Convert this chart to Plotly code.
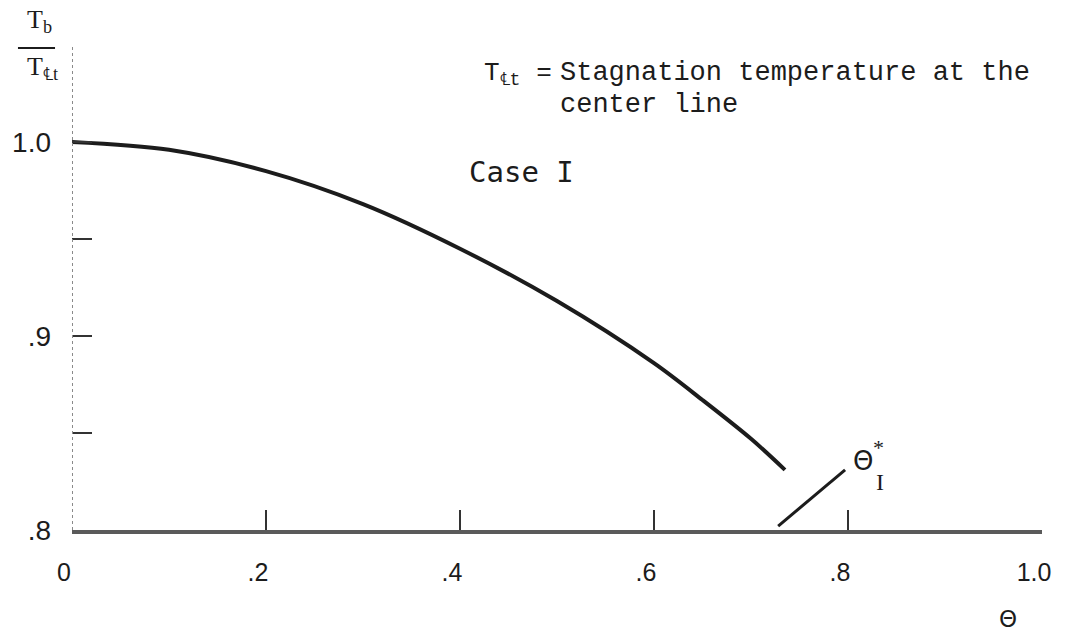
import plotly.graph_objects as go

# Data
theta = [0.0, 0.10, 0.20, 0.30, 0.40, 0.50, 0.60, 0.65, 0.70, 0.735]
tb_ratio = [1.000, 0.996, 0.985, 0.968, 0.945, 0.918, 0.886, 0.867, 0.847, 0.831]

x_tickvals = [0, 0.2, 0.4, 0.6, 0.8, 1.0]
x_ticktext = ["0", ".2", ".4", ".6", ".8", "1.0"]
y_tickvals = [0.8, 0.9, 1.0]
y_ticktext = [".8", ".9", "1.0"]

pointer_x = [0.728, 0.797]
pointer_y = [0.802, 0.831]

INK = "#1c1c1c"
MONO = "Liberation Mono, DejaVu Sans Mono, monospace"
SANS = "Liberation Sans, DejaVu Sans, sans-serif"
SERIF = "Liberation Serif, DejaVu Serif, serif"

fig = go.Figure()
fig.add_trace(go.Scatter(
    x=theta, y=tb_ratio, mode="lines",
    line=dict(color=INK, width=4, shape="spline", smoothing=0.9),
    showlegend=False, hoverinfo="skip",
))

# dotted vertical axis
fig.add_shape(type="line", xref="x", yref="y", x0=0, x1=0, y0=0.8, y1=1.05,
              line=dict(color="#8a8a8a", width=2, dash="dot"))
# pointer line to theta*
fig.add_shape(type="line", xref="x", yref="y",
              x0=pointer_x[0], y0=pointer_y[0], x1=pointer_x[1], y1=pointer_y[1],
              line=dict(color=INK, width=3))
# fraction bar of the y label
fig.add_shape(type="line", xref="paper", yref="paper",
              x0=-0.0557, x1=-0.0175, y0=0.994, y1=0.994,
              line=dict(color=INK, width=2))

ann = []
# y-axis label (fraction)
ann.append(dict(text="T<sub>b</sub>", xref="paper", yref="paper", x=-0.0485, y=1.012,
                xanchor="left", yanchor="bottom", showarrow=False,
                font=dict(family=SERIF, size=26, color=INK)))
ann.append(dict(text="T<sub>℄t</sub>", xref="paper", yref="paper", x=-0.0485, y=0.99,
                xanchor="left", yanchor="top", showarrow=False,
                font=dict(family=SERIF, size=26, color=INK)))
# definition text
ann.append(dict(text="T<sub>℄t</sub> =", xref="x", yref="y", x=0.497, y=1.035,
                xanchor="right", showarrow=False, font=dict(family=MONO, size=26, color=INK)))
ann.append(dict(text="Stagnation temperature at the", xref="x", yref="y", x=0.501, y=1.0355,
                xanchor="left", showarrow=False, font=dict(family=MONO, size=27, color=INK)))
ann.append(dict(text="center line", xref="x", yref="y", x=0.501, y=1.019,
                xanchor="left", showarrow=False, font=dict(family=MONO, size=27, color=INK)))
# Case I
ann.append(dict(text="Case I", xref="x", yref="y", x=0.463, y=0.9845,
                showarrow=False, font=dict(family="DejaVu Sans Mono, monospace", size=29, color=INK)))
# theta* label
ann.append(dict(text="Θ", xref="x", yref="y", x=0.815, y=0.8358,
                showarrow=False, font=dict(family="DejaVu Sans, sans-serif", size=26, color=INK)))
ann.append(dict(text="*", xref="x", yref="y", x=0.831, y=0.8425,
                showarrow=False, font=dict(family=SERIF, size=22, color=INK)))
ann.append(dict(text="I", xref="x", yref="y", x=0.833, y=0.8245,
                showarrow=False, font=dict(family=SERIF, size=24, color=INK)))
# x-axis label
ann.append(dict(text="Θ", xref="x", yref="paper", x=0.965, y=-0.214,
                showarrow=False, font=dict(family="DejaVu Sans, sans-serif", size=23, color=INK)))

fig.update_layout(
    width=1065, height=637,
    margin=dict(l=72, r=23, t=45, b=107, autoexpand=False),
    paper_bgcolor="white", plot_bgcolor="white",
    annotations=ann,
    showlegend=False,
)
fig.update_xaxes(
    range=[0, 1.0], tickvals=x_tickvals, ticktext=x_ticktext,
    ticks="inside", ticklen=20, tickwidth=2, tickcolor="#333",
    showline=True, linewidth=4, linecolor="#5a5a5a",
    showgrid=False, zeroline=False, automargin=False,
    tickfont=dict(family=SANS, size=25, color=INK),
    ticklabelstandoff=17, ticklabelshift=-8,
)
fig.update_yaxes(
    range=[0.8, 1.05], tickvals=y_tickvals, ticktext=y_ticktext,
    ticks="inside", ticklen=20, tickwidth=2, tickcolor="#333",
    minor=dict(tick0=0.8, dtick=0.05, ticks="inside", ticklen=20, tickwidth=2,
               tickcolor="#333", showgrid=False),
    showline=False, showgrid=False, zeroline=False, automargin=False,
    tickfont=dict(family=SANS, size=28, color=INK),
    ticklabelstandoff=20,
)

fig.write_html("out.html", config={"displayModeBar": False},
               post_script="document.body.style.margin='0';document.body.style.overflow='hidden';")
